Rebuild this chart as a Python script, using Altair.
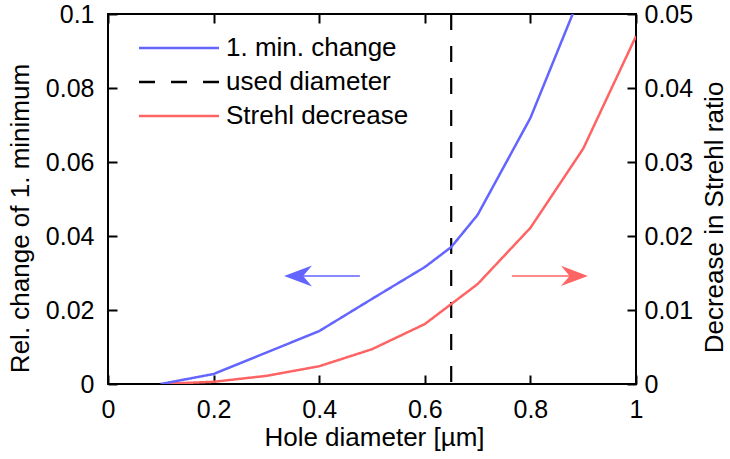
import altair as alt
import pandas as pd

# Hole diameter samples (µm) for the two computed quantities
min_x = [0.1, 0.2, 0.3, 0.4, 0.5, 0.6, 0.65, 0.7, 0.8, 0.9]
min_change = [0.0, 0.0027, 0.0085, 0.0143, 0.023, 0.0316, 0.037, 0.0457, 0.0719, 0.107]

strehl_x = [0.1, 0.2, 0.3, 0.4, 0.5, 0.6, 0.7, 0.8, 0.9, 1.0]
strehl_decrease = [0.0, 0.0003, 0.0011, 0.0024, 0.0047, 0.0081, 0.0135, 0.0211, 0.0318, 0.047]

used_diameter = [0.65]

series_names = ["1. min. change", "used diameter", "Strehl decrease"]
series_colors = ["#6464ff", "#000000", "#ff6464"]
series_dash = [[1, 0], [16, 16], [1, 0]]

x_ticks = [0, 0.2, 0.4, 0.6, 0.8, 1]
left_ticks = [0, 0.02, 0.04, 0.06, 0.08, 0.1]
right_ticks = [0, 0.01, 0.02, 0.03, 0.04, 0.05]

# arrows that tie each curve to its axis: tail x, head-centre x, height
left_arrow = {"tail": [0.477], "head": [0.36], "y": [0.0292]}
right_arrow = {"tail": [0.765], "head": [0.8835], "y": [0.0146]}

FONT = "Liberation Sans"
LABEL_FS = 25
TITLE_FS = 26
TICK = 9

blue_df = pd.DataFrame({"d": min_x, "v": min_change, "series": series_names[0]})
red_df = pd.DataFrame({"d": strehl_x, "v": strehl_decrease, "series": series_names[2]})
vline_df = pd.DataFrame({"d": used_diameter, "series": series_names[1]})
larrow_df = pd.DataFrame(left_arrow)
rarrow_df = pd.DataFrame(right_arrow)

x_dom = alt.Scale(domain=[0, 1], nice=False)
left_scale = alt.Scale(domain=[0, 0.1], nice=False)
right_scale = alt.Scale(domain=[0, 0.05], nice=False)

# legend key: a long horizontal stroke drawn from a short nominal symbol
color = alt.Color(
    "series:N",
    scale=alt.Scale(domain=series_names, range=series_colors),
    sort=series_names,
    legend=alt.Legend(
        orient="none", legendX=58, legendY=21, title=None,
        symbolType="M -4 0 L 4 0", symbolSize=400, symbolStrokeWidth=2.5,
        labelFont=FONT, labelFontSize=TITLE_FS, labelColor="black",
        labelOffset=34, rowPadding=8, padding=0, labelLimit=0,
    ),
)
dash = alt.StrokeDash(
    "series:N",
    scale=alt.Scale(domain=series_names, range=series_dash),
    sort=series_names,
    legend=None,
)

bottom_axis = alt.Axis(
    orient="bottom", values=x_ticks, format="~g", domain=False, grid=False,
    offset=-TICK, tickSize=TICK, tickWidth=2, tickColor="black",
    labelPadding=13, labelFlush=False, title="Hole diameter [µm]",
    titleX=266, titleY=70, titleBaseline="alphabetic", titleAlign="center",
)
top_axis = alt.Axis(
    orient="top", values=x_ticks, labels=False, domain=False, grid=False,
    offset=-TICK, tickSize=TICK, tickWidth=2, tickColor="black", title=None,
)
left_axis = alt.Axis(
    orient="left", values=left_ticks, format="~g", domain=False, grid=False,
    offset=-TICK, tickSize=TICK, tickWidth=2, tickColor="black",
    labelPadding=14, labelBaseline="middle", labelFlush=False,
    title="Rel. change of 1. minimum",
    titleX=-97, titleY=204, titleAngle=-90, titleBaseline="middle", titleAlign="center",
)
right_axis = alt.Axis(
    orient="right", values=right_ticks, format="~g", domain=False, grid=False,
    offset=-TICK, tickSize=TICK, tickWidth=2, tickColor="black",
    labelPadding=8, labelBaseline="middle", labelFlush=False,
    title="Decrease in Strehl ratio",
    titleX=87, titleY=203, titleAngle=-90, titleBaseline="middle", titleAlign="center",
)

blue_line = alt.Chart(blue_df).mark_line(strokeWidth=2.5, clip=True).encode(
    x=alt.X("d:Q", scale=x_dom, axis=bottom_axis),
    y=alt.Y("v:Q", scale=left_scale, axis=left_axis),
    color=color, strokeDash=dash,
)
red_line = alt.Chart(red_df).mark_line(strokeWidth=2.5, clip=True).encode(
    x=alt.X("d:Q", scale=x_dom, axis=None),
    y=alt.Y("v:Q", scale=right_scale, axis=right_axis),
    color=color, strokeDash=dash,
)
vline = alt.Chart(vline_df).mark_rule(strokeWidth=2.2).encode(
    x=alt.X("d:Q", scale=x_dom, axis=top_axis),
    color=color, strokeDash=dash,
)

left_shaft = alt.Chart(larrow_df).mark_rule(strokeWidth=2, color="#8a8aff").encode(
    x=alt.X("tail:Q", scale=x_dom, axis=None), x2="head:Q",
    y=alt.Y("y:Q", scale=left_scale, axis=None),
)
left_head = alt.Chart(larrow_df).mark_point(
    shape="M -1 0 L 1 -0.75 L 0.36 0 L 1 0.75 Z", size=784,
    filled=True, opacity=1, color="#6464ff", strokeWidth=0,
).encode(
    x=alt.X("head:Q", scale=x_dom, axis=None),
    y=alt.Y("y:Q", scale=left_scale, axis=None),
)
right_shaft = alt.Chart(rarrow_df).mark_rule(strokeWidth=2, color="#ff8a8a").encode(
    x=alt.X("tail:Q", scale=x_dom, axis=None), x2="head:Q",
    y=alt.Y("y:Q", scale=right_scale, axis=None),
)
right_head = alt.Chart(rarrow_df).mark_point(
    shape="M 1 0 L -1 -0.75 L -0.36 0 L -1 0.75 Z", size=729,
    filled=True, opacity=1, color="#ff6464", strokeWidth=0,
).encode(
    x=alt.X("head:Q", scale=x_dom, axis=None),
    y=alt.Y("y:Q", scale=right_scale, axis=None),
)

chart = (
    alt.layer(
        vline, left_shaft, left_head, right_shaft, right_head, red_line, blue_line
    )
    .resolve_scale(y="independent")
    .resolve_axis(x="independent", y="independent")
    .properties(
        width=528, height=370,
        background="white",
        autosize=alt.AutoSizeParams(type="none"),
        padding={"left": 108, "top": 14, "right": 94, "bottom": 75},
    )
    .configure_view(stroke="black", strokeWidth=2)
    .configure_axis(
        labelFont=FONT, labelFontSize=LABEL_FS, labelColor="black",
        titleFont=FONT, titleFontSize=TITLE_FS, titleFontWeight="normal", titleColor="black",
    )
)

chart.save("out.html", embed_options={"renderer": "svg", "actions": False})
